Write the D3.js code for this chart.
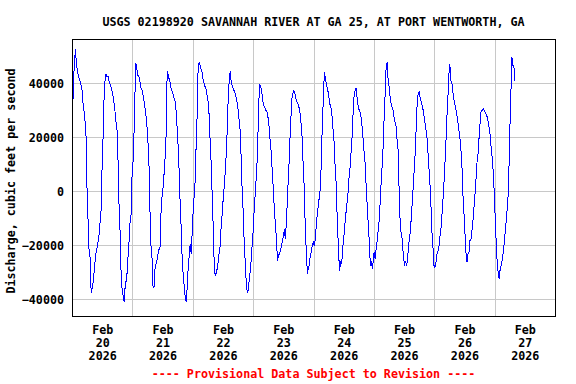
<!DOCTYPE html>
<html>
<head>
<meta charset="utf-8">
<script src="https://cdn.jsdelivr.net/npm/d3@7"></script>
<style>
  body { margin: 0; background: #fff; }
  text { font-family: "DejaVu Sans Mono", monospace; font-weight: bold; font-size: 11.7px; }
</style>
</head>
<body>
<svg id="chart" width="576" height="384"></svg>
<script>
// chart texts
const titleText = "USGS 02198920 SAVANNAH RIVER AT GA 25, AT PORT WENTWORTH, GA";
const yLabelText = "Discharge, cubic feet per second";
const footerText = "---- Provisional Data Subject to Revision ----";

// axes
const yTicks = [-40000, -20000, 0, 20000, 40000];
const yDomain = [-46200, 56400];
const startDay = "2026-02-20";
const endDay = "2026-02-28";
const labelDays = ["2026-02-20", "2026-02-21", "2026-02-22", "2026-02-23",
                   "2026-02-24", "2026-02-25", "2026-02-26", "2026-02-27"];

// discharge readings: hours after Feb 20 00:00, cubic feet per second
const hours = [
  0.2, 0.5, 1.1, 1.3, 1.6, 2.1, 2.8, 3.4, 4.0, 4.5, 5.0, 5.6, 5.8, 6.2, 6.6, 7.2, 7.4, 7.7, 8.1, 8.5,
  9.0, 9.5, 10.1, 10.5, 10.9, 11.1, 11.5, 11.8, 11.9, 12.2, 12.6, 13.0, 13.4, 13.8, 14.4, 14.8, 15.4, 15.9, 16.4, 17.0,
  17.5, 18.0, 18.4, 18.8, 19.2, 19.5, 19.9, 20.4, 20.8, 21.2, 21.7, 22.3, 22.7, 23.1, 23.6, 23.8, 24.2, 24.6, 24.9, 25.2,
  25.4, 25.8, 26.2, 26.8, 27.3, 27.8, 28.3, 28.9, 29.4, 29.9, 30.5, 30.7, 31.0, 31.4, 31.8, 32.1, 32.6, 33.0, 33.4, 33.9,
  34.4, 35.0, 35.2, 35.6, 36.2, 36.7, 37.1, 37.4, 37.6, 37.9, 38.4, 38.9, 39.3, 39.9, 40.5, 41.1, 41.6, 42.0, 42.4, 42.8,
  43.2, 43.6, 44.0, 44.4, 44.8, 45.1, 45.4, 45.8, 46.2, 46.6, 47.0, 47.4, 47.8, 48.2, 48.6, 49.0, 49.3, 49.7, 49.9, 50.2,
  50.6, 51.1, 51.7, 52.2, 52.7, 53.3, 53.8, 54.3, 54.7, 55.1, 55.5, 55.8, 56.2, 56.4, 56.7, 57.1, 57.5, 57.9, 58.3, 58.8,
  59.3, 59.7, 60.1, 60.5, 60.9, 61.3, 61.7, 62.1, 62.5, 62.9, 63.3, 63.9, 64.4, 64.9, 65.4, 66.0, 66.5, 66.9, 67.3, 67.7,
  68.1, 68.4, 68.8, 69.2, 69.5, 69.8, 70.2, 70.6, 71.0, 71.4, 71.8, 72.2, 72.6, 73.0, 73.4, 73.7, 74.1, 74.3, 74.7, 75.1,
  75.5, 76.0, 76.6, 77.1, 77.6, 78.2, 78.7, 79.2, 79.7, 80.1, 80.5, 80.9, 81.3, 81.7, 82.1, 82.7, 83.2, 83.6, 84.0, 84.4,
  84.8, 85.3, 85.7, 86.1, 86.5, 86.9, 87.4, 88.0, 88.5, 89.0, 89.5, 90.1, 90.6, 91.0, 91.4, 91.7, 92.1, 92.5, 92.9, 93.3,
  93.5, 93.9, 94.3, 94.7, 95.1, 95.5, 95.9, 96.3, 96.7, 97.1, 97.5, 97.9, 98.3, 98.7, 99.1, 99.5, 99.9, 100.3, 100.7, 101.1,
  101.5, 102.0, 102.4, 102.8, 103.3, 103.7, 104.1, 104.5, 104.9, 105.3, 105.7, 106.1, 106.4, 106.8, 107.2, 107.6, 108.1, 108.6, 109.2, 109.7,
  110.1, 110.5, 110.9, 111.3, 111.7, 112.1, 112.5, 112.9, 113.4, 113.9, 114.4, 115.0, 115.5, 116.0, 116.6, 117.0, 117.4, 117.8, 118.2, 118.6,
  119.0, 119.4, 119.7, 120.1, 120.5, 120.9, 121.3, 121.7, 122.1, 122.5, 122.9, 123.3, 123.7, 124.1, 124.5, 124.8, 125.0, 125.3, 125.7, 126.1,
  126.6, 127.2, 127.7, 128.2, 128.8, 129.2, 129.6, 129.9, 130.3, 130.7, 131.3, 131.8, 132.2, 132.6, 133.0, 133.4, 133.8, 134.3, 134.7, 135.1,
  135.5, 135.9, 136.3, 136.7, 137.1, 137.6, 138.0, 138.4, 139.0, 139.5, 140.0, 140.6, 141.1, 141.5, 142.0, 142.4, 142.8, 143.2, 143.6, 143.9,
  144.3, 144.7, 145.1, 145.5, 145.9, 146.2, 146.6, 147.0, 147.4, 147.8, 148.2, 148.6, 149.0, 149.4, 149.8, 150.2, 150.6, 151.0, 151.4, 151.9,
  152.5, 153.0, 153.5, 154.1, 154.6, 155.0, 155.4, 155.8, 156.2, 156.6, 157.0, 157.4, 157.8, 158.2, 158.6, 159.0, 159.4, 159.8, 160.2, 160.6,
  161.0, 161.3, 161.7, 162.1, 162.5, 162.9, 163.5, 164.0, 164.5, 165.1, 165.6, 166.1, 166.6, 167.2, 167.6, 168.0, 168.4, 168.8, 169.2, 169.6,
  169.8, 170.2, 170.6, 171.0, 171.4, 171.8, 172.2, 172.6, 173.0, 173.4, 173.8, 174.2, 174.6, 174.9, 175.3, 175.7, 175.9
];
const discharge = [
  20600, 41000, 48400, 52700, 49300, 44700, 41900, 40400, 37300, 31100, 28600, 20000, 4600, -3500, -20100, -24500, -33700, -37700, -35600, -33100,
  -27500, -23200, -20100, -17700, -15200, -12100, -7800, -3500, 7000, 13800, 31100, 39800, 43500, 42600, 42600, 40400, 39200, 37300, 34800, 30500,
  25600, 21900, 7700, -9600, -16400, -30000, -36200, -39300, -41100, -33700, -33100, -23800, -18300, -10900, -7800, 4600, 9500, 20600, 26800, 46600,
  47500, 45300, 42900, 42200, 38500, 37700, 35400, 31700, 28000, 23100, 13200, 6400, -7200, -20100, -24500, -35000, -35600, -28800, -26900, -25100,
  -22000, -20700, -12100, -3500, 1500, 7700, 13800, 20600, 36100, 44700, 42200, 41000, 38500, 36700, 34800, 33000, 26800, 19400, 13800, -400,
  -7800, -20700, -28800, -32500, -38000, -39300, -41100, -35600, -28200, -23800, -19500, -23200, -14600, -6500, -1000, 4600, 15700, 26800, 40400, 45900,
  48000, 45900, 44100, 41000, 39200, 37900, 34800, 32400, 23700, 14400, 7700, -5900, -14000, -23200, -30000, -31200, -29400, -28200, -23800, -21400,
  -12700, -8400, -2800, 1500, 7000, 13800, 22500, 34800, 41000, 44700, 40400, 38500, 37300, 36100, 34200, 30500, 25600, 21900, 10700, -1600,
  -8400, -17700, -25100, -32500, -36200, -37700, -35600, -31200, -28800, -22000, -18900, -10300, -4700, 2100, 7000, 13800, 27400, 34200, 39200, 38500,
  36100, 32400, 31100, 29900, 29300, 25600, 19400, 14400, 5800, -400, -8400, -12100, -18900, -25700, -23800, -22600, -20700, -18300, -17000, -14000,
  -17700, -10300, -400, 6400, 15700, 24900, 34200, 37300, 36700, 34200, 33000, 31700, 29300, 25600, 21200, 13200, 7000, -5900, -18300, -23200,
  -30600, -28800, -27500, -23800, -22600, -20100, -18900, -20100, -17700, -12700, -8400, -5300, -2200, 900, 10700, 24900, 33600, 44100, 42200, 39800,
  37900, 36100, 32400, 31700, 28700, 23700, 20000, 10700, 5200, -6500, -16400, -25100, -29400, -25700, -26900, -21400, -16400, -10900, -5300, -1000,
  4600, 8300, 13800, 19400, 28000, 34800, 37300, 38200, 34200, 30500, 29900, 26800, 21900, 15700, 9500, 200, -5900, -12700, -18900, -27500,
  -25700, -28800, -26300, -22600, -25100, -21400, -18300, -14600, -10900, -4100, 3300, 9500, 16900, 28000, 36700, 44700, 47200, 47800, 40400, 38500,
  33600, 31100, 29900, 26200, 24300, 19400, 15700, 5200, -8400, -14600, -18000, -25100, -26900, -25700, -27500, -25100, -20100, -16400, -12100, -6500,
  -400, 5800, 12000, 20600, 30500, 36100, 36700, 34800, 32400, 30500, 27400, 23700, 20000, 14400, 7000, 900, -7800, -17700, -22000, -27500,
  -28200, -26300, -23200, -22000, -20100, -17000, -14600, -9600, -4100, 2100, 9500, 16900, 26800, 34200, 42900, 47200, 41000, 40400, 36700, 33600,
  31100, 28000, 24900, 20600, 15700, 9500, -1000, -7800, -15200, -22600, -26300, -23200, -22600, -18300, -17700, -14600, -10900, -5900, -1000, 4600,
  10700, 12600, 18200, 23700, 29300, 29900, 30500, 29900, 28700, 27400, 24900, 21900, 16300, 10700, 4600, -4100, -14000, -22600, -28800, -30600,
  -32500, -28800, -27500, -25700, -22600, -19500, -15200, -10900, -6500, -1000, 12000, 28000, 40400, 49600, 46600, 45900, 41000
];

const plot = { left: 72, top: 39, right: 555, bottom: 316 };
const plotW = plot.right - plot.left, plotH = plot.bottom - plot.top;

const svg = d3.select("#chart");
const t0 = new Date(startDay + "T00:00:00Z");
const data = hours.map((h, i) => ({ date: new Date(+t0 + h * 3600e3), value: discharge[i] }));

const x = d3.scaleUtc()
  .domain([t0, new Date(endDay + "T00:00:00Z")])
  .range([plot.left, plot.right]);
const y = d3.scaleLinear().domain(yDomain).range([plot.bottom, plot.top]);

// gridlines
const midnights = labelDays.slice(1).map(d => new Date(d + "T00:00:00Z"));
svg.append("g")
  .attr("transform", `translate(0,${plot.bottom})`)
  .call(d3.axisBottom(x).tickValues(midnights).tickSize(-plotH).tickFormat(""))
  .call(g => g.select(".domain").remove())
  .call(g => g.selectAll("line").attr("stroke", "#c8c8c8").attr("shape-rendering", "crispEdges"));

svg.append("g")
  .attr("transform", `translate(${plot.left},0)`)
  .call(d3.axisLeft(y).tickValues(yTicks).tickSize(-plotW).tickPadding(8).tickFormat(d3.format("d")))
  .call(g => g.select(".domain").remove())
  .call(g => g.selectAll("line").attr("stroke", "#c8c8c8").attr("shape-rendering", "crispEdges"))
  .call(g => g.selectAll("text").attr("fill", "#000").style("font-size", "11.7px")
    .style("font-family", '"DejaVu Sans Mono", monospace'));

// discharge line
svg.append("path")
  .datum(data)
  .attr("fill", "none")
  .attr("stroke", "#0000ff")
  .attr("stroke-width", 1)
  .attr("shape-rendering", "crispEdges")
  .attr("d", d3.line().x(d => x(d.date)).y(d => y(d.value)));

// frame
svg.append("rect")
  .attr("x", plot.left + 0.5).attr("y", plot.top + 0.5)
  .attr("width", plotW).attr("height", plotH)
  .attr("fill", "none").attr("stroke", "#000").attr("stroke-width", 1)
  .attr("shape-rendering", "crispEdges");

// date labels, centred at noon
const noons = labelDays.map(d => new Date(d + "T12:00:00Z"));
const fmt = [d3.utcFormat("%b"), d3.utcFormat("%d"), d3.utcFormat("%Y")];
const xAxis = svg.append("g")
  .attr("transform", `translate(0,${plot.bottom})`)
  .call(d3.axisBottom(x).tickValues(noons).tickSize(0).tickFormat(""))
  .call(g => g.select(".domain").remove());
xAxis.selectAll(".tick text")
  .attr("y", 0).attr("dy", null)
  .attr("fill", "#000")
  .style("font-size", "11.7px").style("font-family", '"DejaVu Sans Mono", monospace')
  .each(function (d) {
    const t = d3.select(this);
    fmt.forEach((f, i) => t.append("tspan").attr("x", 0).attr("y", 18 + i * 13).text(f(d)));
  });

// title, axis title, footer
svg.append("text")
  .attr("x", (plot.left + plot.right) / 2).attr("y", 26)
  .attr("text-anchor", "middle").text(titleText);

svg.append("text")
  .attr("transform", `translate(15,181) rotate(-90)`)
  .attr("text-anchor", "middle").text(yLabelText);

svg.append("text")
  .attr("x", (plot.left + plot.right) / 2).attr("y", 378)
  .attr("text-anchor", "middle").attr("fill", "#ff0000").text(footerText);
</script>
</body>
</html>
